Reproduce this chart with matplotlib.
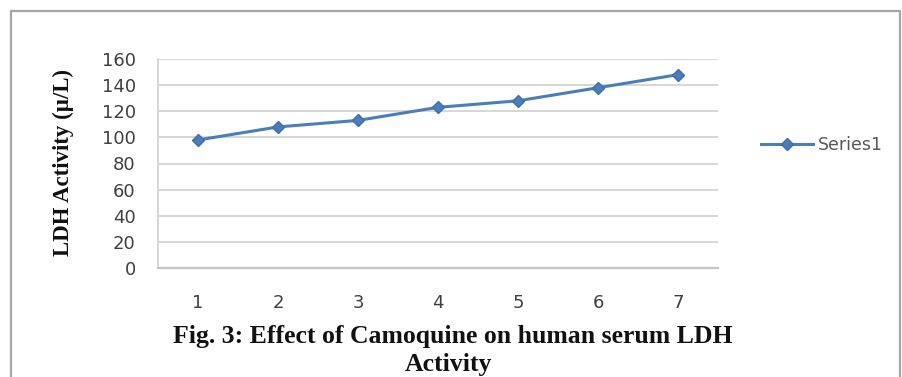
import matplotlib
matplotlib.use("Agg")
import matplotlib.pyplot as plt
from matplotlib.patches import Rectangle

# values
samples = [1, 2, 3, 4, 5, 6, 7]
ldh_activity = [98, 108, 113, 123, 128, 138, 148]
y_ticks = [0, 20, 40, 60, 80, 100, 120, 140, 160]
series_name = "Series1"
y_label = "LDH Activity (\u00b5/L)"
caption_1 = "Fig. 3: Effect of Camoquine on human serum LDH"
caption_2 = "Activity"

W, H = 903, 377
fig = plt.figure(figsize=(W / 100, H / 100), dpi=100)
fig.patch.set_facecolor("white")

# outer frame of the figure box
fig.patches.append(Rectangle((11 / W, -0.05), (900 - 11) / W, 1.05 - 11 / H,
                             transform=fig.transFigure, fill=False,
                             edgecolor="#A6A6A6", linewidth=1.6))

ax = fig.add_axes([158 / W, 1 - 268 / H, (718 - 158) / W, (268 - 59) / H])
blue = "#4A7EBB"
ax.plot(samples, ldh_activity, color=blue, linewidth=2.2, marker="D",
        markersize=6.5, markerfacecolor=blue, markeredgecolor="#3F6FA8",
        label=series_name, zorder=3)

ax.set_xlim(0.5, 7.5)
ax.set_ylim(0, 160)
ax.set_yticks(y_ticks)
ax.set_xticks(samples)
ax.yaxis.grid(True, color="#D6D6D6", linewidth=1.4)
ax.set_axisbelow(True)
for s in ["top", "right"]:
    ax.spines[s].set_visible(False)
ax.spines["left"].set_color("#D6D6D6")
ax.spines["left"].set_linewidth(1.4)
ax.spines["bottom"].set_color("#C4C4C4")
ax.spines["bottom"].set_linewidth(1.6)
ax.tick_params(axis="both", length=0, labelsize=13, labelcolor="#404040")
ax.tick_params(axis="y", pad=16)
ax.tick_params(axis="x", pad=19)

fig.legend(loc="center left", bbox_to_anchor=(745 / W, 1 - 145 / H),
           frameon=False, fontsize=12.5, handlelength=3.0, handletextpad=0.3,
           labelcolor="#595959")

fig.text(63 / W, 1 - 163 / H, y_label, rotation=90, ha="center", va="center",
         fontsize=16.5, fontweight="bold", family="Liberation Serif", color="#111111")
fig.text(453 / W, 1 - 336 / H, caption_1, ha="center", va="center",
         fontsize=18.5, fontweight="bold", family="Liberation Serif", color="#111111")
fig.text(448 / W, 1 - 364 / H, caption_2, ha="center", va="center",
         fontsize=18.5, fontweight="bold", family="Liberation Serif", color="#111111")

fig.savefig("out.png", dpi=100)
